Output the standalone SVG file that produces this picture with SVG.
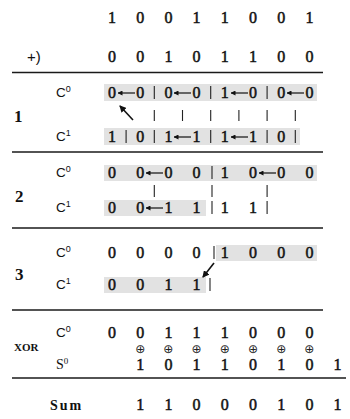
<svg xmlns="http://www.w3.org/2000/svg" width="350" height="419" viewBox="0 0 350 419">
<style>
.d{font-family:"Liberation Serif","Times New Roman",serif;font-size:16px;text-anchor:middle;fill:#111;stroke:#111;stroke-width:0.5}
.c{font-family:"Liberation Sans",Arial,sans-serif;font-size:13.5px;fill:#111}
.sup{font-size:9px}
.s{font-family:"Liberation Serif",serif;font-size:13px;fill:#111;font-weight:bold}
.lab{font-family:"Liberation Serif",serif;font-size:17px;font-weight:bold;fill:#111}
.rule{stroke:#1a1a1a;stroke-width:1.6;fill:none}
.bar{stroke:#222;stroke-width:1.1;fill:none}
.arr{stroke:#111;stroke-width:1.2;fill:none;marker-end:url(#ah)}
.big{stroke:#111;stroke-width:1.6;fill:none;marker-end:url(#ah2)}
.sh{fill:#e2e2e2}
.x{font-family:"DejaVu Sans",sans-serif;font-size:12px;text-anchor:middle;fill:#222}
</style>
<defs>
<marker id="ah" markerWidth="5" markerHeight="5" refX="4.5" refY="2.5" orient="auto" markerUnits="userSpaceOnUse"><path d="M0,0 L5,2.5 L0,5 z" fill="#111"/></marker>
<marker id="ah2" markerWidth="7" markerHeight="7" refX="6" refY="3.5" orient="auto" markerUnits="userSpaceOnUse"><path d="M0,0 L7,3.5 L0,7 z" fill="#111"/></marker>
</defs>

<g id="shading">
<rect class="sh" x="104" y="84" width="213" height="17"/>
<rect class="sh" x="104" y="128" width="196" height="17"/>
<rect class="sh" x="104" y="165" width="213" height="16"/>
<rect class="sh" x="104" y="200" width="102" height="16"/>
<rect class="sh" x="216" y="245" width="101" height="16"/>
<rect class="sh" x="104" y="277" width="102" height="16"/>
</g>

<g id="rules">
<line class="rule" x1="12" y1="72.5" x2="323" y2="72.5"/>
<line class="rule" x1="12" y1="152" x2="323" y2="152"/>
<line class="rule" x1="12" y1="228" x2="323" y2="228"/>
<line class="rule" x1="12" y1="310" x2="323" y2="310"/>
<line class="rule" x1="12" y1="378" x2="346" y2="378"/>
</g>

<g id="operands">
<text class="d" y="23"><tspan x="112">1</tspan><tspan x="140.2">0</tspan><tspan x="168.4">0</tspan><tspan x="196.6">1</tspan><tspan x="224.8">1</tspan><tspan x="253">0</tspan><tspan x="281.2">0</tspan><tspan x="309.4">1</tspan></text>
<text class="c" x="27" y="62" style="font-size:15px">+)</text>
<text class="d" y="62"><tspan x="112">0</tspan><tspan x="140.2">0</tspan><tspan x="168.4">1</tspan><tspan x="196.6">0</tspan><tspan x="224.8">1</tspan><tspan x="253">1</tspan><tspan x="281.2">0</tspan><tspan x="309.4">0</tspan></text>
</g>

<g id="step1">
<text class="lab" x="14" y="122">1</text>
<text class="c" x="56" y="97">C<tspan class="sup" dy="-5">0</tspan></text>
<text class="c" x="56" y="141">C<tspan class="sup" dy="-5">1</tspan></text>
<text class="d" y="98"><tspan x="112">0</tspan><tspan x="140.2">0</tspan><tspan x="168.4">0</tspan><tspan x="196.6">0</tspan><tspan x="224.8">1</tspan><tspan x="253">0</tspan><tspan x="281.2">0</tspan><tspan x="309.4">0</tspan></text>
<text class="d" y="142"><tspan x="112">1</tspan><tspan x="140.2">0</tspan><tspan x="168.4">1</tspan><tspan x="196.6">1</tspan><tspan x="224.8">1</tspan><tspan x="253">1</tspan><tspan x="281.2">0</tspan></text>
</g>

<g id="step2">
<text class="lab" x="15" y="202">2</text>
<text class="c" x="56" y="177">C<tspan class="sup" dy="-5">0</tspan></text>
<text class="c" x="56" y="212">C<tspan class="sup" dy="-5">1</tspan></text>
<text class="d" y="178"><tspan x="112">0</tspan><tspan x="140.2">0</tspan><tspan x="168.4">0</tspan><tspan x="196.6">0</tspan><tspan x="224.8">1</tspan><tspan x="253">0</tspan><tspan x="281.2">0</tspan><tspan x="309.4">0</tspan></text>
<text class="d" y="213"><tspan x="112">0</tspan><tspan x="140.2">0</tspan><tspan x="168.4">1</tspan><tspan x="196.6">1</tspan><tspan x="224.8">1</tspan><tspan x="253">1</tspan></text>
</g>

<g id="step3">
<text class="lab" x="15" y="280">3</text>
<text class="c" x="56" y="257">C<tspan class="sup" dy="-5">0</tspan></text>
<text class="c" x="56" y="289">C<tspan class="sup" dy="-5">1</tspan></text>
<text class="d" y="258"><tspan x="112">0</tspan><tspan x="140.2">0</tspan><tspan x="168.4">0</tspan><tspan x="196.6">0</tspan><tspan x="224.8">1</tspan><tspan x="253">0</tspan><tspan x="281.2">0</tspan><tspan x="309.4">0</tspan></text>
<text class="d" y="290"><tspan x="112">0</tspan><tspan x="140.2">0</tspan><tspan x="168.4">1</tspan><tspan x="196.6">1</tspan></text>
</g>

<g id="xor">
<text class="s" x="14" y="351" style="font-size:11px">XOR</text>
<text class="c" x="56" y="337">C<tspan class="sup" dy="-5">0</tspan></text>
<text class="s" x="56" y="369" style="font-weight:normal;font-size:14px">S<tspan class="sup" dy="-5">0</tspan></text>
<text class="d" y="338"><tspan x="112">0</tspan><tspan x="140.2">0</tspan><tspan x="168.4">1</tspan><tspan x="196.6">1</tspan><tspan x="224.8">1</tspan><tspan x="253">0</tspan><tspan x="281.2">0</tspan><tspan x="309.4">0</tspan></text>
<text class="x" y="353"><tspan x="140.2">⊕</tspan><tspan x="168.4">⊕</tspan><tspan x="196.6">⊕</tspan><tspan x="224.8">⊕</tspan><tspan x="253">⊕</tspan><tspan x="281.2">⊕</tspan><tspan x="309.4">⊕</tspan></text>
<text class="d" y="370"><tspan x="140.2">1</tspan><tspan x="168.4">0</tspan><tspan x="196.6">1</tspan><tspan x="224.8">1</tspan><tspan x="253">0</tspan><tspan x="281.2">1</tspan><tspan x="309.4">0</tspan><tspan x="337.6">1</tspan></text>
</g>

<g id="sum">
<text class="s" x="50" y="410" style="font-size:14px;letter-spacing:2px">Sum</text>
<text class="d" y="410"><tspan x="140.2">1</tspan><tspan x="168.4">1</tspan><tspan x="196.6">0</tspan><tspan x="224.8">0</tspan><tspan x="253">0</tspan><tspan x="281.2">1</tspan><tspan x="309.4">0</tspan><tspan x="337.6">1</tspan></text>
</g>

<g id="connectors">
<line class="arr" x1="135" y1="93" x2="118" y2="93"/>
<line class="arr" x1="191" y1="93" x2="174" y2="93"/>
<line class="arr" x1="248" y1="93" x2="231" y2="93"/>
<line class="arr" x1="304" y1="93" x2="287" y2="93"/>
<line class="bar" x1="154.3" y1="86" x2="154.3" y2="99"/>
<line class="bar" x1="210.7" y1="86" x2="210.7" y2="99"/>
<line class="bar" x1="267.1" y1="86" x2="267.1" y2="99"/>
<line class="bar" x1="154.3" y1="110" x2="154.3" y2="121"/>
<line class="bar" x1="182.5" y1="110" x2="182.5" y2="121"/>
<line class="bar" x1="210.7" y1="110" x2="210.7" y2="121"/>
<line class="bar" x1="238.9" y1="110" x2="238.9" y2="121"/>
<line class="bar" x1="267.1" y1="110" x2="267.1" y2="121"/>
<line class="bar" x1="295.3" y1="110" x2="295.3" y2="121"/>
<line class="big" x1="133" y1="120" x2="120" y2="106"/>
<line class="arr" x1="191" y1="137" x2="174" y2="137"/>
<line class="arr" x1="248" y1="137" x2="231" y2="137"/>
<line class="bar" x1="126.1" y1="130" x2="126.1" y2="143"/>
<line class="bar" x1="154.3" y1="130" x2="154.3" y2="143"/>
<line class="bar" x1="210.7" y1="130" x2="210.7" y2="143"/>
<line class="bar" x1="267.1" y1="130" x2="267.1" y2="143"/>
<line class="bar" x1="295.3" y1="130" x2="295.3" y2="143"/>
<line class="arr" x1="163" y1="173" x2="146" y2="173"/>
<line class="arr" x1="276" y1="173" x2="259" y2="173"/>
<line class="bar" x1="212" y1="166" x2="212" y2="179"/>
<line class="bar" x1="154.3" y1="185" x2="154.3" y2="197"/>
<line class="bar" x1="212" y1="185" x2="212" y2="197"/>
<line class="bar" x1="267.1" y1="185" x2="267.1" y2="197"/>
<line class="arr" x1="163" y1="208" x2="146" y2="208"/>
<line class="bar" x1="212" y1="201" x2="212" y2="214"/>
<line class="bar" x1="267.1" y1="201" x2="267.1" y2="214"/>
<line class="bar" x1="214" y1="246" x2="214" y2="259"/>
<line class="big" x1="214" y1="263" x2="203" y2="277"/>
<line class="bar" x1="210" y1="278" x2="210" y2="291"/>
</g>
</svg>
